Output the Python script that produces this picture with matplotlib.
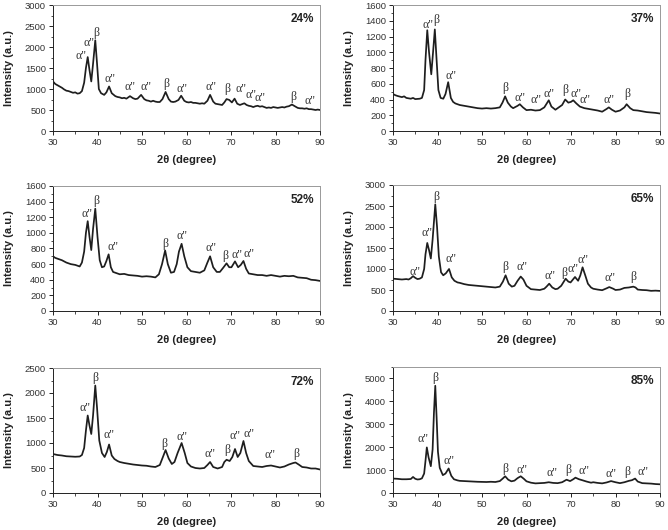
import matplotlib
matplotlib.use("Agg")
import matplotlib.pyplot as plt
from matplotlib.ticker import MultipleLocator, AutoMinorLocator

# ---------------- data ----------------
pattern_24 = [(30,1180),(30.5,1120),(31,1090),(31.5,1060),(32,1030),(32.5,990),(33,960),(33.5,950),(34,930),
    (34.5,910),(35,920),(35.5,890),(36,900),(36.5,950),(37,1150),(37.4,1500),(37.8,1760),(38.2,1450),(38.6,1180),
    (39.0,1600),(39.5,2160),(39.9,1600),(40.3,1000),(40.8,900),(41.5,860),(42.0,920),(42.6,1060),(43.2,900),
    (44,830),(44.5,810),(45,800),(45.5,780),(46,790),(46.5,770),(47.3,830),(48,780),(48.5,760),(49,770),
    (49.8,860),(50.5,760),(51,730),(51.5,720),(52,700),(52.5,720),(53,700),(53.5,690),(54,690),(54.6,760),
    (55.3,930),(56,760),(56.5,700),(57,690),(57.5,700),(58.2,740),(58.8,840),(59.5,720),(60,690),(60.5,680),
    (61,690),(61.5,670),(62,670),(62.5,660),(63,650),(63.5,660),(64,650),(64.7,720),(65.3,860),(66,700),
    (66.5,650),(67,640),(67.5,630),(68,620),(68.5,680),(69,760),(69.6,740),(70.2,680),(70.8,770),(71.4,650),
    (72,620),(72.5,640),(73,660),(73.5,620),(74,600),(74.5,590),(75,570),(75.5,590),(76,600),(76.5,580),
    (77,590),(77.5,570),(78,550),(78.5,560),(79,550),(79.5,570),(80,560),(80.5,550),(81,560),(81.5,570),
    (82,560),(82.5,580),(83,590),(83.7,630),(84.5,580),(85,550),(85.5,540),(86,540),(86.5,530),(87,540),
    (87.5,520),(88,520),(88.5,510),(89,500),(89.5,510),(90,500)]
pattern_37 = [(30,470),(30.5,455),(31,445),(32,430),(32.5,440),(33,420),(34,410),(34.5,420),(35,405),(36,410),
    (36.5,420),(37,520),(37.3,900),(37.7,1280),(38.1,1000),(38.6,720),(39.0,1000),(39.4,1290),(39.8,900),
    (40.2,520),(40.7,420),(41.3,410),(41.8,470),(42.4,620),(43.0,420),(43.5,370),(44,350),(45,330),(46,320),
    (47,310),(48,300),(49,290),(50,285),(51,290),(52,285),(53,290),(54,300),(54.6,360),(55.2,440),(55.8,360),
    (56.5,310),(57,290),(58,320),(58.5,340),(59.2,300),(60,265),(61,270),(62,260),(63,265),(64,300),(65,390),
    (65.6,310),(66.5,270),(67,290),(68,330),(68.7,400),(69.4,360),(70,370),(70.5,390),(71.2,350),(72,310),
    (73,290),(74,280),(75,270),(76,260),(77,245),(78,280),(78.5,300),(79.2,270),(80,245),(81,260),(82,300),
    (82.5,340),(83.3,290),(84,265),(85,260),(86,250),(87,240),(88,235),(89,230),(90,222)]
pattern_52 = [(30,700),(30.5,680),(31,670),(32,650),(33,620),(34,600),(35,590),(35.5,580),(36,570),(36.5,620),
    (37,760),(37.4,1000),(37.8,1150),(38.2,950),(38.6,780),(39.0,1050),(39.5,1310),(40.0,950),(40.5,650),
    (41.0,560),(41.5,570),(42.0,640),(42.5,725),(43.0,560),(43.5,500),(44,490),(45,470),(46,475),(47,460),
    (48,455),(49,450),(50,440),(51,445),(52,440),(53,430),(53.8,470),(54.5,600),(55.2,775),(55.8,600),
    (56.5,490),(57.2,500),(57.8,600),(58.3,760),(58.9,860),(59.5,700),(60.2,560),(61,510),(62,500),(63,490),
    (64,520),(64.7,620),(65.3,700),(66,560),(66.8,500),(67.5,500),(68.2,550),(69,610),(69.6,560),(70.1,560),
    (70.9,635),(71.6,560),(72.2,590),(72.8,640),(73.4,540),(74,480),(75,470),(76,460),(77,460),(78,450),
    (79,460),(80,450),(81,440),(82,450),(83,445),(84,450),(85,430),(86,425),(87,420),(88,400),(89,395),(90,385)]
pattern_65 = [(30,770),(31,760),(32,750),(33,760),(33.5,750),(34,780),(34.5,830),(35,790),(35.5,760),(36,770),
    (36.5,800),(37,1000),(37.3,1350),(37.7,1620),(38.1,1450),(38.5,1250),(38.9,1700),(39.5,2540),(39.9,2000),
    (40.3,1300),(40.8,920),(41.3,850),(41.9,900),(42.6,1000),(43.2,800),(43.8,720),(44.5,680),(45,670),
    (46,640),(47,620),(48,610),(49,600),(50,590),(51,580),(52,570),(53,560),(54,580),(54.7,700),(55.3,850),
    (56,650),(56.7,580),(57.3,600),(58,720),(58.7,820),(59.3,750),(60,600),(61,520),(62,510),(63,500),
    (64,530),(64.5,580),(65.1,650),(65.8,560),(66.5,520),(67,530),(67.8,600),(68.8,770),(69.4,700),(69.9,680),
    (70.9,810),(71.6,720),(72.1,850),(72.6,1040),(73.2,850),(73.8,650),(74.5,560),(75,530),(76,510),(77,495),
    (78,540),(78.6,570),(79.5,530),(80,500),(81,510),(82,550),(83,560),(84,580),(84.5,560),(85,510),(86,500),
    (87,495),(88,480),(89,485),(90,478)]
pattern_72 = [(30,780),(31,760),(32,750),(33,735),(34,730),(35,725),(36,730),(36.5,760),(37,900),(37.4,1250),
    (37.8,1550),(38.2,1350),(38.6,1180),(39.0,1550),(39.5,2150),(39.9,1700),(40.4,1050),(41,800),(41.6,720),
    (42.1,820),(42.6,970),(43.2,750),(43.8,680),(44.5,640),(45,620),(46,600),(47,585),(48,570),(49,560),
    (50,550),(51,545),(52,530),(53,520),(54,560),(54.7,720),(55.3,860),(56,690),(56.7,580),(57.3,620),
    (58,800),(58.9,1000),(59.6,800),(60.2,600),(61,530),(62,500),(63,490),(64,500),(64.7,560),(65.3,620),
    (66,520),(67,490),(68,520),(68.5,620),(69,665),(69.7,640),(70.3,720),(70.9,880),(71.5,720),(72.1,800),
    (72.8,1040),(73.4,800),(74,640),(75,540),(76,530),(77,520),(78,540),(79,550),(80,530),(81,510),(82,530),
    (83,570),(84,600),(84.5,610),(85.2,570),(86,520),(87,510),(88,490),(89,490),(90,470)]
pattern_85 = [(30,630),(31,620),(32,600),(33,600),(34,610),(34.5,700),(35,620),(35.5,590),(36,600),(36.5,640),
    (37,850),(37.3,1400),(37.6,1990),(38,1550),(38.5,1170),(38.9,1900),(39.2,3500),(39.5,4680),(39.8,3300),
    (40.1,1800),(40.5,1100),(41.2,780),(41.8,850),(42.5,1070),(43.1,750),(43.7,600),(44.5,550),(45,530),
    (46,520),(47,510),(48,500),(49,490),(50,485),(51,480),(52,490),(53,480),(54,520),(54.6,620),(55.2,730),
    (55.9,580),(56.6,510),(57.3,540),(58,650),(58.7,730),(59.4,620),(60,510),(61,450),(62,420),(63,430),
    (64,440),(65,470),(66,440),(67,430),(68,470),(69,580),(69.8,520),(70.5,600),(71,670),(71.8,600),
    (72.5,560),(73.5,500),(74.5,450),(75,470),(76,440),(77,420),(78,460),(79,520),(80,470),(81,430),
    (82,470),(83,530),(83.7,560),(84.4,630),(85,500),(86,430),(87,420),(88,410),(89,390),(90,380)]

A = 'α"'
B = 'β'
labels_24 = [(36.2,1780,A),(38.1,2085,A),(39.75,2345,B),(42.9,1250,A),(47.4,1055,A),(51.0,1055,A),
             (55.5,1110,B),(59.0,1010,A),(65.4,1040,A),(69.2,990,B),(72.2,1000,A),(74.4,860,A),(76.6,790,A),
             (84.0,820,B),(87.8,725,A)]
labels_37 = [(37.85,1345,A),(39.65,1410,B),(43.1,695,A),(55.3,550,B),(58.6,425,A),(62.1,390,A),(65.0,465,A),
             (68.6,520,B),(71.06,465,A),(73.2,390,A),(78.5,400,A),(82.6,467,B)]
labels_52 = [(37.65,1237,A),(39.75,1408,B),(43.5,820,A),(55.2,862,B),(59.0,956,A),(65.4,811,A),(68.7,700,B),
             (71.3,717,A),(74.1,725,A)]
labels_65 = [(34.9,940,A),(37.55,1862,A),(39.65,2720,B),(43.1,1230,A),(55.3,1055,B),(58.9,1040,A),(65.3,833,A),
             (68.5,898,B),(70.4,993,A),(72.8,1214,A),(78.8,778,A),(84.0,817,B)]
labels_72 = [(37.1,1700,A),(39.4,2294,B),(42.5,1150,A),(55.0,984,B),(58.9,1117,A),(65.25,785,A),(69.15,851,B),
             (70.95,1137,A),(73.95,1184,A),(78.8,758,A),(84.6,785,B)]
labels_85 = [(36.8,2340,A),(39.6,5015,B),(42.6,1404,A),(55.2,1067,B),(59.1,1023,A),(65.75,877,A),(69.3,1023,B),
             (73.0,965,A),(79.0,819,A),(82.7,921,B),(86.1,921,A)]

titles = ["24%", "37%", "52%", "65%", "72%", "85%"]
patterns = [pattern_24, pattern_37, pattern_52, pattern_65, pattern_72, pattern_85]
peak_labels = [labels_24, labels_37, labels_52, labels_65, labels_72, labels_85]
y_max = [3000, 1600, 1600, 3000, 2500, 5500]
y_step = [500, 200, 200, 500, 500, 1000]
x_ticks = [30, 40, 50, 60, 70, 80, 90]

# ---------------- layout ----------------
W, H = 668, 530
fig = plt.figure(figsize=(W / 100, H / 100), dpi=100)
rects_px = [(53, 5, 320, 131), (393, 5, 660, 131),
            (53, 186, 320, 311), (393, 185, 660, 311),
            (53, 368, 320, 493), (393, 367, 660, 493)]

sans = "Liberation Sans"
for i in range(6):
    l, t, r, b = rects_px[i]
    ax = fig.add_axes([l / W, 1 - b / H, (r - l) / W, (b - t) / H])
    xs = [p[0] for p in patterns[i]]
    ys = [p[1] for p in patterns[i]]
    ax.plot(xs, ys, color="#1e1e1e", lw=1.25)
    ax.set_xlim(30, 90)
    ax.set_ylim(0, y_max[i])
    ax.set_xticks(x_ticks)
    ax.xaxis.set_minor_locator(MultipleLocator(5))
    ax.yaxis.set_major_locator(MultipleLocator(y_step[i]))
    ax.yaxis.set_minor_locator(AutoMinorLocator(2))
    if y_max[i] == 5500:
        ax.set_yticks(range(0, 5001, 1000))
        ax.yaxis.set_minor_locator(MultipleLocator(500))
    ax.tick_params(which="major", direction="out", length=3, width=0.6, labelsize=6.8,
                   labelcolor="#333333", pad=2)
    ax.tick_params(which="minor", direction="out", length=1.8, width=0.5)
    for lab in ax.get_xticklabels() + ax.get_yticklabels():
        lab.set_fontfamily(sans)
    for s in ["left", "bottom"]:
        ax.spines[s].set_color("#222222")
        ax.spines[s].set_linewidth(0.7)
    for s in ["top", "right"]:
        ax.spines[s].set_color("#999999")
        ax.spines[s].set_linewidth(0.7)
    ax.set_xlabel("2θ (degree)", fontsize=8, fontweight="bold", family=sans, color="#222222")
    ax.set_ylabel("Intensity (a.u.)", fontsize=8, fontweight="bold", family=sans, color="#222222")
    ax.xaxis.set_label_coords(0.5, -24 / (b - t))
    ax.yaxis.set_label_coords(-39 / (r - l), 0.5)
    ax.text(0.978, 0.886, titles[i], transform=ax.transAxes, ha="right", va="center",
            fontsize=8.5, fontweight="bold", family=sans, color="#222222")
    for (lx, ly, txt) in peak_labels[i]:
        ax.text(lx, ly, txt, ha="center", va="center", fontsize=8.5,
                family=["Liberation Serif", "DejaVu Serif"], color="#333333")

fig.savefig("out.png", dpi=100)
